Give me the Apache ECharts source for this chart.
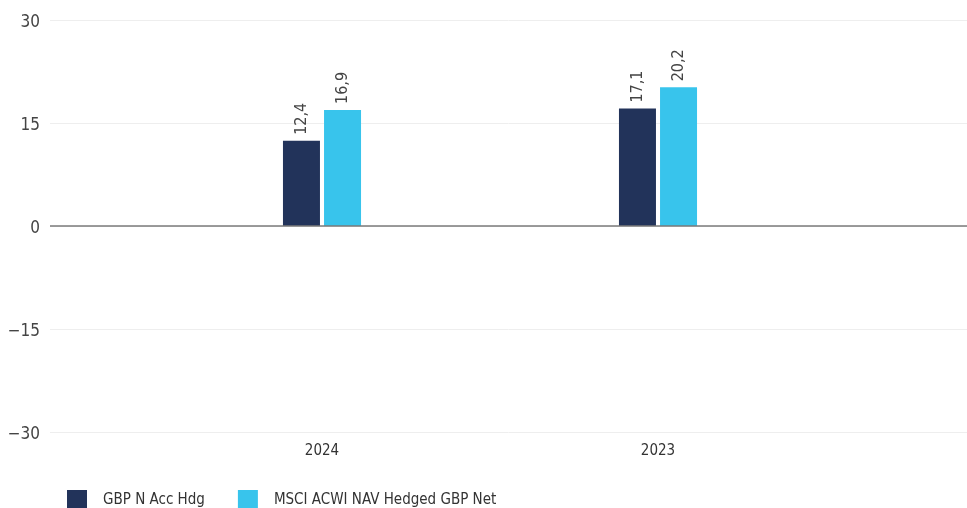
<!DOCTYPE html>
<html><head><meta charset="utf-8">
<script src="https://cdn.jsdelivr.net/npm/echarts@6/dist/echarts.min.js"></script>
<style>html,body{margin:0;padding:0;background:#fff}#c{width:967px;height:508px}</style>
</head><body><div id="c"></div>
<script>
const categories = ['2024', '2023'];
const fundName = 'GBP N Acc Hdg';
const benchName = 'MSCI ACWI NAV Hedged GBP Net';
const fundValues = [12.4, 17.1];
const benchValues = [16.9, 20.2];
const yMin = -30, yMax = 30, yStep = 15;

const FONT = '"DejaVu Sans Condensed", "Liberation Sans Narrow", "Roboto", sans-serif';
const fmt = v => '{a|' + String(v).replace('-', '\u2212') + '}';
const lbl = v => v.toFixed(1).replace('.', ',');

const chart = echarts.init(document.getElementById('c'));
chart.setOption({
  animation: false,
  textStyle: { fontFamily: FONT },
  legend: {
    left: 62, top: 485, itemWidth: 20, itemHeight: 20, itemGap: 33, icon: 'rect',
    textStyle: { fontFamily: FONT, fontSize: 15, color: '#333', padding: [0, 0, 0, 11] },
    data: [fundName, benchName]
  },
  grid: [
    { left: 50, right: 0, top: 20, bottom: 76 },
    { left: 154, right: 141, top: 20, bottom: 76 }
  ],
  xAxis: [
    { type: 'category', gridIndex: 0, data: categories, show: false },
    { type: 'category', gridIndex: 1, data: categories,
      axisLine: { show: false }, axisTick: { show: false },
      axisLabel: { fontFamily: FONT, fontSize: 15, color: '#333', margin: 12 } }
  ],
  yAxis: [
    { type: 'value', gridIndex: 0, min: yMin, max: yMax, interval: yStep,
      axisLine: { show: false }, axisTick: { show: false },
      axisLabel: { formatter: fmt, margin: 10,
        rich: { a: { fontFamily: FONT, fontSize: 17, color: '#444', padding: [6, 0, 0, 0] } } },
      splitLine: { lineStyle: { color: '#eeeeee', width: 1 } } },
    { type: 'value', gridIndex: 1, min: yMin, max: yMax, interval: yStep, show: false,
      splitLine: { show: false } }
  ],
  series: [
    { name: fundName, type: 'bar', xAxisIndex: 1, yAxisIndex: 1, data: fundValues,
      barWidth: 37, barGap: '11%', itemStyle: { color: '#22335a' },
      label: { show: true, position: 'top', rotate: 90, align: 'left', verticalAlign: 'middle',
        distance: 6, formatter: p => lbl(p.value), fontFamily: FONT, fontSize: 16, color: '#444' } },
    { name: benchName, type: 'bar', xAxisIndex: 1, yAxisIndex: 1, data: benchValues,
      barWidth: 37, itemStyle: { color: '#38c4ec' },
      label: { show: true, position: 'top', rotate: 90, align: 'left', verticalAlign: 'middle',
        distance: 6, formatter: p => lbl(p.value), fontFamily: FONT, fontSize: 16, color: '#444' } },
    { type: 'line', xAxisIndex: 0, yAxisIndex: 0, data: [],
      markLine: { silent: true, symbol: 'none', label: { show: false },
        lineStyle: { color: '#7a7a7a', width: 1.5, type: 'solid' }, data: [{ yAxis: 0 }] } }
  ]
});
</script></body></html>
